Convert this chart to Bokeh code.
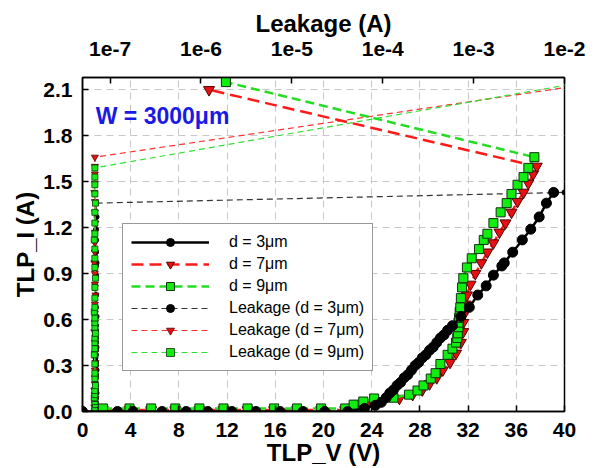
from bokeh.plotting import figure
from bokeh.models import (Range1d, LogScale, LogAxis, FixedTicker, CustomJSTickFormatter,
                          NumeralTickFormatter, Legend, LegendItem, Label)
from bokeh.embed import file_html
from bokeh.resources import INLINE

# ---------------- data ----------------
v_ticks = [0, 4, 8, 12, 16, 20, 24, 28, 32, 36, 40]
i_ticks = [0.0, 0.3, 0.6, 0.9, 1.2, 1.5, 1.8, 2.1]
leak_ticks = [1e-7, 1e-6, 1e-5, 1e-4, 1e-3, 1e-2]
leak_labels = ["1e-7", "1e-6", "1e-5", "1e-4", "1e-3", "1e-2"]

# TLP d = 3um
V3 = [0.0, 2.9, 4.2, 6.6, 8.6, 10.4, 12.4, 14.4, 16.4, 18.3, 20.1, 22.0, 23.4, 24.3, 24.8,
      25.2, 25.5, 25.8, 26.1, 26.4, 26.7, 27.0, 27.3, 27.6, 27.9, 28.2, 28.5, 28.8, 29.1,
      29.4, 29.7, 30.0, 30.3, 30.7, 31.4, 32.1, 32.8, 33.5, 34.1, 34.8, 35.0, 35.7, 36.5,
      37.2, 37.9, 38.5, 39.1]
I3 = [0.0, 0.0, 0.0, 0.0, 0.0, 0.0, 0.0, 0.0, 0.0, 0.0, 0.0, 0.0, 0.02, 0.04, 0.06,
      0.09, 0.12, 0.14, 0.17, 0.19, 0.22, 0.24, 0.27, 0.30, 0.32, 0.35, 0.37, 0.40, 0.42,
      0.45, 0.48, 0.50, 0.53, 0.56, 0.62, 0.68, 0.76, 0.82, 0.89, 0.95, 0.97, 1.04, 1.12,
      1.19, 1.27, 1.36, 1.43]

# TLP d = 7um (last point: after failure)
V7 = [1.7, 3.9, 5.7, 7.7, 9.7, 11.7, 13.7, 15.9, 17.8, 19.8, 21.8, 22.6, 23.6, 24.8, 26.3,
      27.4, 28.2, 28.8, 29.4, 29.9, 30.5, 31.0, 31.4, 31.6, 31.6, 31.7, 31.8, 31.9, 32.2,
      32.6, 33.1, 33.6, 34.1, 34.6, 35.1, 35.6, 36.1, 36.6, 37.0, 37.4, 37.7, 10.5]
I7 = [0.01, 0.01, 0.01, 0.01, 0.01, 0.01, 0.01, 0.01, 0.01, 0.01, 0.01, 0.03, 0.05, 0.07,
      0.085, 0.11, 0.14, 0.18, 0.22, 0.27, 0.32, 0.38, 0.45, 0.52, 0.58, 0.64, 0.70, 0.76,
      0.83, 0.90, 0.97, 1.04, 1.10, 1.17, 1.23, 1.30, 1.37, 1.43, 1.49, 1.55, 1.60, 2.10]

# TLP d = 9um (last point: after failure)
V9 = [1.7, 3.9, 5.7, 7.7, 9.7, 11.7, 13.7, 15.9, 17.8, 19.8, 21.8, 22.5, 23.3, 24.2, 25.8,
      27.1, 27.8, 28.3, 28.9, 29.3, 29.7, 30.3, 30.7, 31.0, 31.1, 31.15, 31.2, 31.2, 31.25,
      31.3, 31.35, 31.4, 31.5, 31.6, 31.9, 32.3, 32.9, 33.3, 33.6, 34.1, 34.7, 35.2, 35.6,
      36.1, 36.6, 37.0, 37.5, 11.9]
I9 = [0.02, 0.02, 0.02, 0.02, 0.02, 0.02, 0.02, 0.02, 0.02, 0.02, 0.02, 0.045, 0.065, 0.085,
      0.09, 0.11, 0.137, 0.17, 0.215, 0.25, 0.31, 0.37, 0.41, 0.45, 0.48, 0.51, 0.55, 0.58,
      0.61, 0.65, 0.68, 0.74, 0.81, 0.87, 0.94, 1.00, 1.06, 1.12, 1.16, 1.23, 1.30, 1.36,
      1.42, 1.48, 1.53, 1.59, 1.66, 2.15]

# Leakage (top log axis) vs TLP_I
leak3_I = [0.0, 0.02, 0.04, 0.06, 0.09, 0.12, 0.14, 0.17, 0.19, 0.22, 0.24, 0.27, 0.30,
           0.32, 0.35, 0.37, 0.40, 0.42, 0.45, 0.48, 0.50, 0.53, 0.56, 0.62, 0.68, 0.76,
           0.82, 0.89, 0.95, 0.97, 1.04, 1.12, 1.19, 1.27, 1.36, 1.43]
leak3_A = [6.9e-8, 7.0e-8, 7.0e-8, 6.9e-8, 7.0e-8, 7.1e-8, 7.0e-8, 7.0e-8, 6.9e-8, 7.0e-8,
           7.0e-8, 7.1e-8, 7.0e-8, 7.0e-8, 6.9e-8, 7.0e-8, 7.0e-8, 7.1e-8, 7.0e-8, 7.0e-8,
           6.9e-8, 7.0e-8, 7.0e-8, 7.1e-8, 7.0e-8, 7.0e-8, 6.9e-8, 7.0e-8, 7.0e-8, 7.1e-8,
           7.0e-8, 7.0e-8, 7.0e-8, 7.1e-8, 7.0e-8, 1.0e-2]

leak7_I = [0.0, 0.01, 0.03, 0.05, 0.07, 0.085, 0.11, 0.14, 0.18, 0.22, 0.27, 0.32, 0.38,
           0.45, 0.52, 0.58, 0.64, 0.70, 0.76, 0.83, 0.90, 0.97, 1.04, 1.10, 1.17, 1.23,
           1.30, 1.37, 1.43, 1.49, 1.55, 1.60, 1.66, 2.14]
leak7_A = [6.8e-8, 6.8e-8, 6.7e-8, 6.8e-8, 6.8e-8, 6.9e-8, 6.8e-8, 6.7e-8, 6.8e-8, 6.8e-8,
           6.8e-8, 6.9e-8, 6.8e-8, 6.8e-8, 6.7e-8, 6.8e-8, 6.8e-8, 6.8e-8, 6.9e-8, 6.8e-8,
           6.8e-8, 6.7e-8, 6.8e-8, 6.8e-8, 6.8e-8, 6.9e-8, 6.8e-8, 6.8e-8, 6.7e-8, 6.8e-8,
           6.8e-8, 6.8e-8, 6.8e-8, 2.0e-2]

leak9_I = [0.0, 0.02, 0.045, 0.065, 0.085, 0.09, 0.11, 0.137, 0.17, 0.215, 0.25, 0.31, 0.37,
           0.41, 0.45, 0.48, 0.51, 0.55, 0.58, 0.61, 0.65, 0.68, 0.74, 0.81, 0.87, 0.94,
           1.00, 1.06, 1.12, 1.16, 1.23, 1.30, 1.36, 1.42, 1.48, 1.53, 1.59, 2.16]
leak9_A = [6.8e-8, 6.8e-8, 6.9e-8, 6.8e-8, 6.8e-8, 6.7e-8, 6.8e-8, 6.8e-8, 6.9e-8, 6.8e-8,
           6.8e-8, 6.8e-8, 6.7e-8, 6.8e-8, 6.8e-8, 6.8e-8, 6.9e-8, 6.8e-8, 6.8e-8, 6.8e-8,
           6.7e-8, 6.8e-8, 6.8e-8, 6.8e-8, 6.9e-8, 6.8e-8, 6.8e-8, 6.8e-8, 6.7e-8, 6.8e-8,
           6.8e-8, 6.8e-8, 6.9e-8, 6.8e-8, 6.8e-8, 6.8e-8, 6.8e-8, 2.0e-2]

FONT = "Liberation Sans"

p = figure(width=598, height=468, x_range=Range1d(0, 40), y_range=Range1d(0, 2.18),
           output_backend="svg", toolbar_location=None,
           min_border_left=82, min_border_right=34, min_border_top=77, min_border_bottom=57,
           background_fill_color="white", border_fill_color="white")
p.extra_x_ranges = {"leak": Range1d(4.97e-8, 1e-2)}
p.extra_x_scales = {"leak": LogScale()}

p.outline_line_color = "black"
p.outline_line_width = 1.5

bottom = p.below[0]
left = p.left[0]

top = LogAxis(x_range_name="leak", axis_label="Leakage (A)",
              ticker=FixedTicker(ticks=leak_ticks),
              formatter=CustomJSTickFormatter(args=dict(tvals=leak_ticks, tlabs=leak_labels), code="""
for (let i = 0; i < tvals.length; i++) {
  if (Math.abs(Math.log10(tick) - Math.log10(tvals[i])) < 1e-6) return tlabs[i];
}
return "";
"""))
p.add_layout(top, "above")

bottom.ticker = FixedTicker(ticks=v_ticks)
left.ticker = FixedTicker(ticks=i_ticks)
left.formatter = NumeralTickFormatter(format="0.0")
bottom.axis_label = "TLP_V (V)"
left.axis_label = "TLP_I (A)"

for ax in [bottom, left, top]:
    ax.major_tick_in = 6
    ax.major_tick_out = 0
    ax.minor_tick_line_color = None
    ax.major_tick_line_color = "black"
    ax.major_tick_line_width = 1.5
    ax.axis_line_color = "black"
    ax.axis_line_width = 1.5
    ax.major_label_text_font = FONT
    ax.major_label_text_font_style = "bold"
    ax.major_label_text_font_size = "21px"
    ax.major_label_text_color = "black"
    ax.axis_label_text_font = FONT
    ax.axis_label_text_font_style = "bold"
    ax.axis_label_text_font_size = "24px"
    ax.axis_label_text_color = "black"

bottom.major_label_standoff = 11
bottom.axis_label_standoff = -1
left.major_label_standoff = 10
left.axis_label_standoff = 1
top.major_label_standoff = 22
top.axis_label_standoff = 2

p.xgrid.grid_line_color = "#c8c8c8"
p.xgrid.grid_line_dash = "7 5"
p.ygrid.grid_line_color = "#c8c8c8"
p.ygrid.grid_line_dash = "7 5"

# leakage curves (top axis)
ll3 = p.line(leak3_A, leak3_I, x_range_name="leak", line_color="#333333", line_width=1.2, line_dash="6 4")
ls3 = p.scatter(leak3_A, leak3_I, x_range_name="leak", marker="circle", size=5,
                fill_color="black", line_color="black")
ll7 = p.line(leak7_A, leak7_I, x_range_name="leak", line_color="#ff3030", line_width=1.2, line_dash="6 4")
ls7 = p.scatter(leak7_A, leak7_I, x_range_name="leak", marker="inverted_triangle", size=7,
                fill_color="#e81010", line_color="#500000", line_width=0.8)
ll9 = p.line(leak9_A, leak9_I, x_range_name="leak", line_color="#30e030", line_width=1.2, line_dash="6 4")
ls9 = p.scatter(leak9_A, leak9_I, x_range_name="leak", marker="square", size=6,
                fill_color="#10ee10", line_color="#103010", line_width=0.8)

# TLP curves
l7 = p.line(V7, I7, line_color="#ff1a1a", line_width=2.5, line_dash="12 6")
s7 = p.scatter(V7, I7, marker="inverted_triangle", size=11, fill_color="#e81010",
               line_color="#500000", line_width=1)
l9 = p.line(V9, I9, line_color="#22dd22", line_width=2.5, line_dash="9 5")
s9 = p.scatter(V9, I9, marker="square", size=9, fill_color="#10ee10",
               line_color="#103010", line_width=1)
l3 = p.line(V3, I3, line_color="black", line_width=2.5)
s3 = p.scatter(V3, I3, marker="circle", size=10, fill_color="black", line_color="black")

legend = Legend(items=[
    LegendItem(label="d = 3μm", renderers=[l3, s3]),
    LegendItem(label="d = 7μm", renderers=[l7, s7]),
    LegendItem(label="d = 9μm", renderers=[l9, s9]),
    LegendItem(label="Leakage (d = 3μm)", renderers=[ll3, ls3]),
    LegendItem(label="Leakage (d = 7μm)", renderers=[ll7, ls7]),
    LegendItem(label="Leakage (d = 9μm)", renderers=[ll9, ls9]),
], location=(40, 40))
legend.border_line_color = "#333333"
legend.border_line_width = 1
legend.background_fill_color = "white"
legend.background_fill_alpha = 1
legend.padding = 8
legend.margin = 0
legend.glyph_width = 78
legend.glyph_height = 20
legend.label_height = 20
legend.label_standoff = 20
legend.spacing = 2
legend.label_text_font = FONT
legend.label_text_font_size = "16px"
legend.label_text_color = "black"
p.add_layout(legend)

p.add_layout(Label(x=1.1, y=1.93, text="W = 3000μm", text_font=FONT, text_font_size="23px",
                   text_font_style="bold", text_color="#1a1ae6", text_baseline="middle"))

open("out.html", "w").write(file_html(p, INLINE))
